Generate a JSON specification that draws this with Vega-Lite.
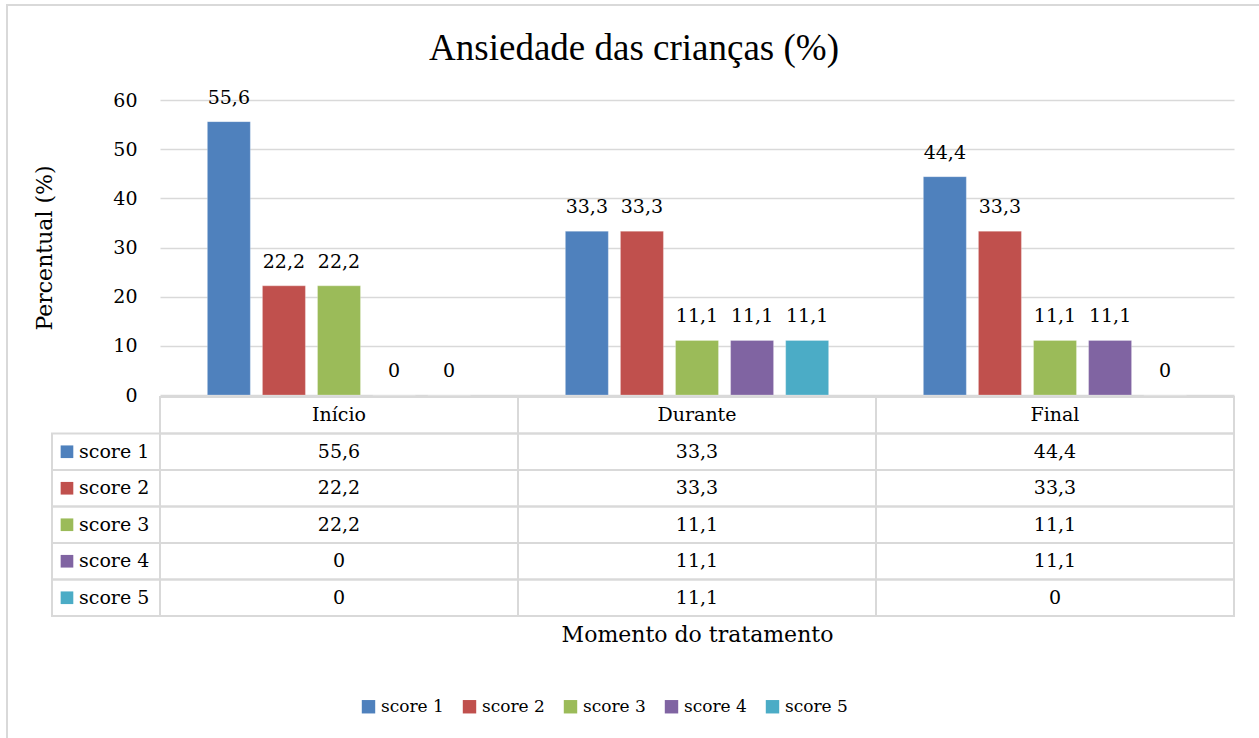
{
  "$schema": "https://vega.github.io/schema/vega-lite/v6.json",
  "autosize": {"type": "none"},
  "padding": {"left": 160, "top": 100, "right": 25, "bottom": 122},
  "width": 1074,
  "height": 516,
  "background": "white",
  "title": {"text": "Ansiedade das crianças (%)", "font": "Liberation Serif", "fontSize": 37, "fontWeight": "normal", "color": "#000000", "anchor": "middle", "offset": 22, "dx": -63, "dy": 86},
  "config": {
    "locale": {"number": {"decimal": ",", "thousands": ".", "grouping": [3], "currency": ["", ""]}},
    "view": {"stroke": null},
    "font": "DejaVu Serif"
  },
  "data": {"values": [
    {"moment": "Início", "score": "score 1", "value": 55.6},
    {"moment": "Início", "score": "score 2", "value": 22.2},
    {"moment": "Início", "score": "score 3", "value": 22.2},
    {"moment": "Início", "score": "score 4", "value": 0},
    {"moment": "Início", "score": "score 5", "value": 0},
    {"moment": "Durante", "score": "score 1", "value": 33.3},
    {"moment": "Durante", "score": "score 2", "value": 33.3},
    {"moment": "Durante", "score": "score 3", "value": 11.1},
    {"moment": "Durante", "score": "score 4", "value": 11.1},
    {"moment": "Durante", "score": "score 5", "value": 11.1},
    {"moment": "Final", "score": "score 1", "value": 44.4},
    {"moment": "Final", "score": "score 2", "value": 33.3},
    {"moment": "Final", "score": "score 3", "value": 11.1},
    {"moment": "Final", "score": "score 4", "value": 11.1},
    {"moment": "Final", "score": "score 5", "value": 0}
  ]},
  "layer": [
    {
      "mark": {"type": "bar", "stroke": "#ffffff", "strokeOpacity": 0.25, "strokeWidth": 1},
      "encoding": {
        "x": {"field": "moment", "type": "nominal", "scale": {"domain": ["Início", "Durante", "Final"], "paddingInner": 0, "paddingOuter": 0}, "axis": null},
        "xOffset": {"field": "score", "type": "nominal", "scale": {"domain": ["score 1", "score 2", "score 3", "score 4", "score 5"], "paddingInner": 0.22, "paddingOuter": 0.86}},
        "y": {"field": "value", "type": "quantitative", "scale": {"domain": [0, 60], "range": [295, 0], "nice": false},
          "axis": {"title": "Percentual (%)", "titleFont": "DejaVu Serif", "titleFontSize": 22, "titleFontWeight": "normal", "titleColor": "#000000", "titlePadding": 56,
            "labelFont": "DejaVu Serif", "labelFontSize": 19, "labelColor": "#000000", "labelPadding": 23, "ticks": false, "domain": false,
            "grid": true, "gridColor": "#d9d9d9", "gridWidth": 1.5, "values": [0, 10, 20, 30, 40, 50, 60]}},
        "color": {"field": "score", "type": "nominal",
          "scale": {"domain": ["score 1", "score 2", "score 3", "score 4", "score 5"], "range": ["#4f81bd", "#c0504d", "#9bbb59", "#8064a2", "#4bacc6"]},
          "legend": {"title": null, "orient": "none", "legendX": 200, "legendY": 598, "direction": "horizontal", "symbolType": "square", "symbolSize": 180, "symbolStrokeWidth": 0,
            "labelFont": "DejaVu Serif", "labelFontSize": 17, "labelColor": "#000000", "labelOffset": 4, "columnPadding": 17}}
      }
    },
    {
      "mark": {"type": "text", "baseline": "middle", "dy": -24, "fontSize": 19, "font": "DejaVu Serif", "color": "#000000"},
      "encoding": {
        "x": {"field": "moment", "type": "nominal", "scale": {"domain": ["Início", "Durante", "Final"], "paddingInner": 0, "paddingOuter": 0}, "axis": null},
        "xOffset": {"field": "score", "type": "nominal"},
        "y": {"field": "value", "type": "quantitative", "scale": {"domain": [0, 60], "range": [295, 0], "nice": false}, "axis": null},
        "text": {"field": "value", "type": "quantitative", "format": ".1~f"}
      }
    },
    {
      "mark": {"type": "rect", "filled": false, "stroke": "#d9d9d9", "strokeWidth": 2},
      "encoding": {
        "x": {"field": "moment", "type": "nominal", "scale": {"domain": ["Início", "Durante", "Final"], "paddingInner": 0, "paddingOuter": 0},
          "axis": {"title": "Momento do tratamento", "labels": false, "ticks": false, "domain": false, "grid": false, "titleFont": "DejaVu Serif", "titleFontSize": 22, "titleFontWeight": "normal", "titleColor": "#000000", "titlePadding": 8}},
        "y": {"field": "score", "type": "nominal", "scale": {"domain": ["hdr", "score 1", "score 2", "score 3", "score 4", "score 5"], "range": [297, 516], "paddingInner": 0, "paddingOuter": 0}, "axis": null}
      }
    },
    {
      "transform": [{"filter": "datum.score == 'score 1'"}],
      "mark": {"type": "rect", "filled": false, "stroke": "#d9d9d9", "strokeWidth": 2},
      "encoding": {
        "x": {"field": "moment", "type": "nominal", "scale": {"domain": ["Início", "Durante", "Final"], "paddingInner": 0, "paddingOuter": 0}, "axis": null},
        "y": {"datum": "hdr", "type": "nominal", "scale": {"domain": ["hdr", "score 1", "score 2", "score 3", "score 4", "score 5"], "range": [297, 516], "paddingInner": 0, "paddingOuter": 0}, "axis": null}
      }
    },
    {
      "transform": [{"filter": "datum.score == 'score 1'"}],
      "mark": {"type": "text", "baseline": "middle", "fontSize": 19, "font": "DejaVu Serif", "color": "#000000"},
      "encoding": {
        "x": {"field": "moment", "type": "nominal", "scale": {"domain": ["Início", "Durante", "Final"], "paddingInner": 0, "paddingOuter": 0}, "axis": null},
        "y": {"datum": "hdr", "type": "nominal", "scale": {"domain": ["hdr", "score 1", "score 2", "score 3", "score 4", "score 5"], "range": [297, 516], "paddingInner": 0, "paddingOuter": 0}, "axis": null},
        "text": {"field": "moment", "type": "nominal"}
      }
    },
    {
      "mark": {"type": "text", "baseline": "middle", "fontSize": 19, "font": "DejaVu Serif", "color": "#000000"},
      "encoding": {
        "x": {"field": "moment", "type": "nominal", "scale": {"domain": ["Início", "Durante", "Final"], "paddingInner": 0, "paddingOuter": 0}, "axis": null},
        "y": {"field": "score", "type": "nominal", "scale": {"domain": ["hdr", "score 1", "score 2", "score 3", "score 4", "score 5"], "range": [297, 516], "paddingInner": 0, "paddingOuter": 0}, "axis": null},
        "text": {"field": "value", "type": "quantitative", "format": ".1~f"}
      }
    },
    {
      "transform": [{"filter": "datum.moment == 'Início'"}],
      "mark": {"type": "rect", "filled": false, "stroke": "#d9d9d9", "strokeWidth": 2},
      "encoding": {
        "x": {"datum": "lbl", "type": "nominal", "scale": {"domain": ["lbl"], "range": [-108, 0], "paddingInner": 0, "paddingOuter": 0}, "axis": null},
        "y": {"field": "score", "type": "nominal", "scale": {"domain": ["hdr", "score 1", "score 2", "score 3", "score 4", "score 5"], "range": [297, 516], "paddingInner": 0, "paddingOuter": 0}, "axis": null}
      }
    },
    {
      "transform": [{"filter": "datum.moment == 'Início'"}],
      "mark": {"type": "point", "shape": "M -7.17 -1 H -5.17 V 1 H -7.17 Z", "filled": true, "opacity": 1, "size": 160, "strokeWidth": 0},
      "encoding": {
        "x": {"datum": "lbl", "type": "nominal", "scale": {"domain": ["lbl"], "range": [-108, 0], "paddingInner": 0, "paddingOuter": 0}, "axis": null},
        "y": {"field": "score", "type": "nominal", "scale": {"domain": ["hdr", "score 1", "score 2", "score 3", "score 4", "score 5"], "range": [297, 516], "paddingInner": 0, "paddingOuter": 0}, "axis": null},
        "color": {"field": "score", "type": "nominal"}
      }
    },
    {
      "transform": [{"filter": "datum.moment == 'Início'"}],
      "mark": {"type": "text", "align": "left", "baseline": "middle", "fontSize": 19, "font": "DejaVu Serif", "color": "#000000", "dx": -27},
      "encoding": {
        "x": {"datum": "lbl", "type": "nominal", "scale": {"domain": ["lbl"], "range": [-108, 0], "paddingInner": 0, "paddingOuter": 0}, "axis": null},
        "y": {"field": "score", "type": "nominal", "scale": {"domain": ["hdr", "score 1", "score 2", "score 3", "score 4", "score 5"], "range": [297, 516], "paddingInner": 0, "paddingOuter": 0}, "axis": null},
        "text": {"field": "score", "type": "nominal"}
      }
    },
    {
      "transform": [{"filter": "datum.moment == 'Início' && datum.score == 'score 1'"}],
      "mark": {"type": "rect", "filled": false, "stroke": "#d9d9d9", "strokeWidth": 2},
      "encoding": {
        "x": {"datum": "frame", "type": "nominal", "scale": {"domain": ["frame"], "range": [-153, 1112], "paddingInner": 0, "paddingOuter": 0}, "axis": null},
        "y": {"datum": "frame", "type": "nominal", "scale": {"domain": ["frame"], "range": [-95, 646], "paddingInner": 0, "paddingOuter": 0}, "axis": null}
      }
    }
  ],
  "resolve": {"scale": {"x": "independent", "y": "independent"}}
}
